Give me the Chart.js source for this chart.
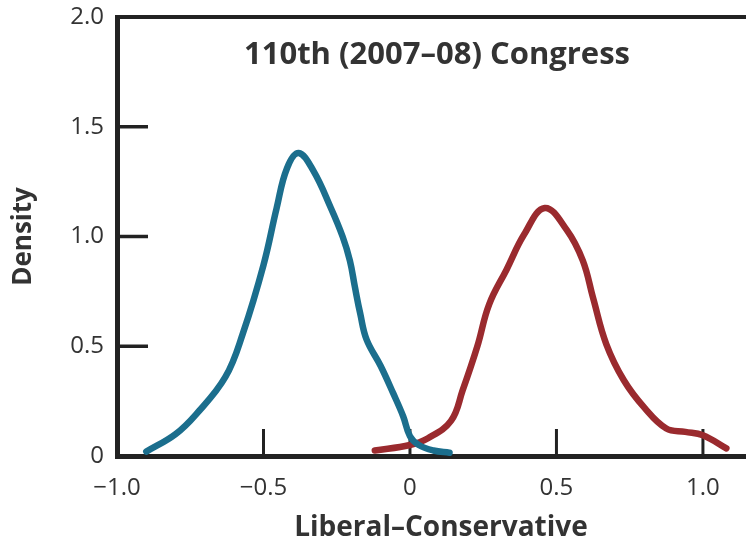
<!DOCTYPE html>
<html>
<head>
<meta charset="utf-8">
<script src="https://cdn.jsdelivr.net/npm/chart.js@4/dist/chart.umd.min.js"></script>
<style>
  html, body { margin: 0; padding: 0; background: #fff; }
  #wrap { width: 746px; height: 544px; }
</style>
</head>
<body>
<div id="wrap"><canvas id="densityChart"></canvas></div>
<script>
const chartTitle = "110th (2007–08) Congress";
const xTitle = "Liberal–Conservative";
const yTitle = "Density";

const xTickValues = [-1.0, -0.5, 0, 0.5, 1.0];
const xTickLabels = ["−1.0", "−0.5", "0", "0.5", "1.0"];
const yTickValues = [0, 0.5, 1.0, 1.5, 2.0];
const yTickLabels = ["0", "0.5", "1.0", "1.5", "2.0"];

// Democratic members (left hump)
const demX = [-0.90, -0.80, -0.73, -0.63, -0.57, -0.50, -0.455, -0.42, -0.38, -0.33, -0.27, -0.23, -0.205, -0.188, -0.17, -0.148, -0.10, -0.057, -0.023, 0.0, 0.03, 0.08, 0.135];
const demY = [0.02, 0.10, 0.19, 0.36, 0.56, 0.87, 1.13, 1.31, 1.38, 1.30, 1.13, 1.00, 0.89, 0.77, 0.65, 0.53, 0.41, 0.285, 0.18, 0.09, 0.05, 0.025, 0.015];

// Republican members (right hump)
const repX = [-0.12, 0, 0.06, 0.14, 0.18, 0.23, 0.27, 0.33, 0.39, 0.46, 0.535, 0.59, 0.625, 0.67, 0.73, 0.80, 0.875, 0.94, 1.00, 1.08];
const repY = [0.025, 0.05, 0.08, 0.16, 0.30, 0.50, 0.69, 0.85, 1.01, 1.13, 1.03, 0.89, 0.72, 0.51, 0.345, 0.22, 0.125, 0.11, 0.095, 0.035];

const blue = "#1b6e8d";
const red = "#9a2a2e";
const ink = "#222";
const fontFamily = "'Open Sans', 'Noto Sans', sans-serif";

function toPoints(xs, ys) {
    return xs.map((x, i) => ({x: x, y: ys[i]}));
}

// spine on top, inward tick marks, the in-plot heading and the x caption
const framePlugin = {
    id: "frame",
    beforeDatasetsDraw(chart) {
        const {ctx, chartArea, scales} = chart;
        ctx.save();
        ctx.strokeStyle = ink;
        ctx.lineCap = "butt";

        ctx.lineWidth = 4;
        ctx.beginPath();
        ctx.moveTo(chartArea.left - 2, chartArea.top);
        ctx.lineTo(chartArea.right, chartArea.top);
        ctx.stroke();

        ctx.lineWidth = 3.5;
        yTickValues.slice(1, -1).forEach(v => {
            const y = scales.y.getPixelForValue(v);
            ctx.beginPath();
            ctx.moveTo(chartArea.left, y);
            ctx.lineTo(chartArea.left + 31, y);
            ctx.stroke();
        });

        ctx.lineWidth = 3;
        xTickValues.slice(1).forEach(v => {
            const x = scales.x.getPixelForValue(v);
            ctx.beginPath();
            ctx.moveTo(x, chartArea.bottom);
            ctx.lineTo(x, chartArea.bottom - 27);
            ctx.stroke();
        });

        ctx.fillStyle = "#333";
        ctx.textAlign = "center";
        ctx.textBaseline = "alphabetic";
        ctx.font = "bold 31px " + fontFamily;
        ctx.fillText(chartTitle, 437, 64);
        ctx.font = "bold 28px " + fontFamily;
        ctx.fillText(xTitle, 441, 536);
        ctx.restore();
    }
};

const ctx = document.getElementById("densityChart").getContext("2d");
new Chart(ctx, {
    type: "line",
    data: {
        datasets: [
            {
                label: "Democrats",
                data: toPoints(demX, demY),
                borderColor: blue,
                borderWidth: 6.5,
                tension: 0.4,
                pointRadius: 0,
                borderCapStyle: "round",
                borderJoinStyle: "round",
                fill: false
            },
            {
                label: "Republicans",
                data: toPoints(repX, repY),
                borderColor: red,
                borderWidth: 6.5,
                tension: 0.4,
                pointRadius: 0,
                borderCapStyle: "round",
                borderJoinStyle: "round",
                fill: false
            }
        ]
    },
    options: {
        responsive: true,
        maintainAspectRatio: false,
        animation: false,
        layout: { padding: { top: 17, right: 0, left: 0, bottom: 0 } },
        plugins: {
            legend: { display: false },
            tooltip: { enabled: false }
        },
        scales: {
            x: {
                type: "linear",
                min: -1.0,
                max: 1.147,
                afterFit: scale => { scale.height = 88; },
                afterBuildTicks: scale => { scale.ticks = xTickValues.map(v => ({value: v})); },
                grid: { display: false, drawTicks: false },
                border: { display: true, color: ink, width: 5 },
                ticks: {
                    padding: 18,
                    color: "#333",
                    font: { family: fontFamily, size: 24 },
                    maxRotation: 0,
                    callback: (v, i) => xTickLabels[i]
                }
            },
            y: {
                min: 0,
                max: 2.0,
                afterFit: scale => {
                    scale.width = 117;
                    // keep the label overhang from pushing the plot down
                    scale.paddingTop = 8;
                    scale.paddingBottom = 8;
                },
                afterBuildTicks: scale => { scale.ticks = yTickValues.map(v => ({value: v})); },
                grid: { display: false, drawTicks: false },
                border: { display: true, color: ink, width: 5 },
                ticks: {
                    padding: 13,
                    color: "#333",
                    font: { family: fontFamily, size: 24 },
                    callback: (v, i) => yTickLabels[i]
                },
                title: {
                    display: true,
                    text: yTitle,
                    color: "#333",
                    font: { family: fontFamily, size: 26, weight: "bold" },
                    padding: { top: 8, bottom: 0 }
                }
            }
        }
    },
    plugins: [framePlugin]
});
</script>
</body>
</html>
